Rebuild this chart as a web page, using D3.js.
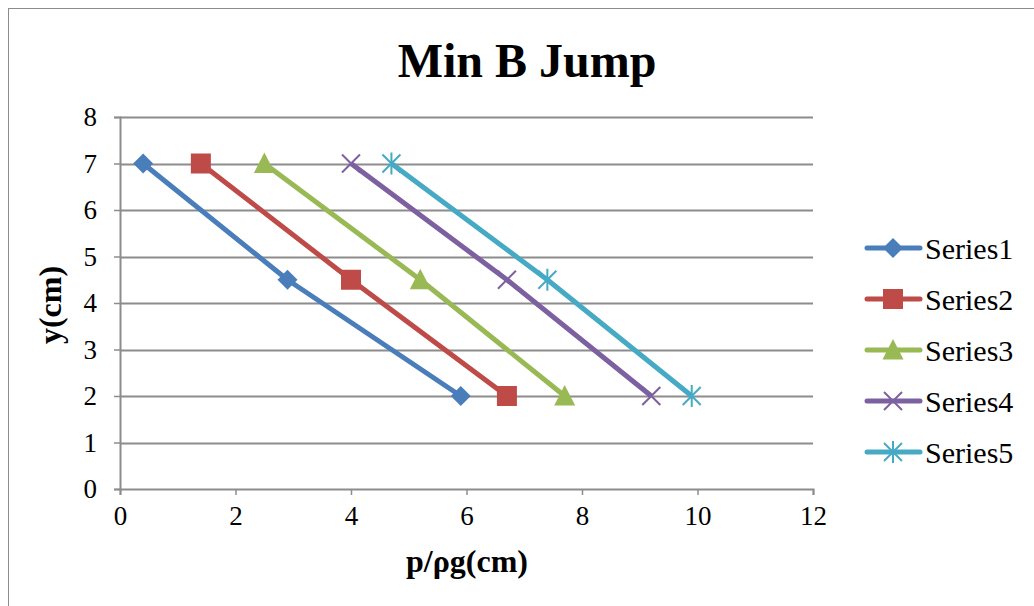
<!DOCTYPE html>
<html>
<head>
<meta charset="utf-8">
<script src="https://cdn.jsdelivr.net/npm/d3@7"></script>
<style>
  html, body { margin: 0; padding: 0; background: #fff; }
  svg { display: block; font-family: "Liberation Serif", "Times New Roman", serif; }
</style>
</head>
<body>
<svg id="chart" width="1034" height="606"></svg>
<script>
// Data
const seriesNames = ["Series1", "Series2", "Series3", "Series4", "Series5"];
const yValues = [7, 4.5, 2];
const s1 = [0.4, 2.9, 5.9];
const s2 = [1.4, 4.0, 6.7];
const s3 = [2.5, 5.2, 7.7];
const s4 = [4.0, 6.7, 9.2];
const s5 = [4.7, 7.4, 9.9];
const xTicks = [0, 2, 4, 6, 8, 10, 12];
const yTicks = [0, 1, 2, 3, 4, 5, 6, 7, 8];

const colors = ["#4a7ebb", "#be4b48", "#98b954", "#7d60a0", "#46aac5"];
const markerTypes = ["diamond", "square", "triangle", "x", "star"];

const series = [s1, s2, s3, s4, s5].map((xs, i) => ({
  name: seriesNames[i],
  color: colors[i],
  marker: markerTypes[i],
  points: xs.map((x, j) => ({ x: x, y: yValues[j] }))
}));

const serif = "'Liberation Serif', 'Times New Roman', serif";
const svg = d3.select("#chart");

// Chart frame
svg.append("rect")
  .attr("x", 8.5).attr("y", 8.5)
  .attr("width", 1040).attr("height", 620)
  .attr("fill", "#fff").attr("stroke", "#8c8c8c").attr("stroke-width", 1);

const plot = { left: 120, right: 813, top: 117, bottom: 489 };
const x = d3.scaleLinear().domain([0, 12]).range([plot.left, plot.right]);
const y = d3.scaleLinear().domain([0, 8]).range([plot.bottom, plot.top]);

// Horizontal gridlines
svg.append("g")
  .selectAll("line")
  .data(yTicks.filter(d => d > 0))
  .join("line")
  .attr("x1", plot.left).attr("x2", plot.right)
  .attr("y1", d => Math.round(y(d)) + 0.5).attr("y2", d => Math.round(y(d)) + 0.5)
  .attr("stroke", "#8c8c8c").attr("stroke-width", 2);

// Axes
const xAxis = svg.append("g")
  .attr("transform", `translate(0,${plot.bottom})`)
  .call(d3.axisBottom(x).tickValues(xTicks).tickSize(6).tickPadding(11).tickFormat(d3.format("d")));
const yAxis = svg.append("g")
  .attr("transform", `translate(${plot.left},0)`)
  .call(d3.axisLeft(y).tickValues(yTicks).tickSize(6).tickPadding(17).tickFormat(d3.format("d")));

[xAxis, yAxis].forEach(g => {
  g.attr("font-family", serif).attr("font-size", 27);
  g.select(".domain").attr("stroke", "#8c8c8c").attr("stroke-width", 2);
  g.selectAll(".tick line").attr("stroke", "#8c8c8c").attr("stroke-width", 1.5);
  g.selectAll(".tick text").attr("fill", "#000");
});

// Lines
const line = d3.line().x(d => x(d.x)).y(d => y(d.y));

svg.append("g")
  .selectAll("path")
  .data(series)
  .join("path")
  .attr("d", d => line(d.points))
  .attr("fill", "none")
  .attr("stroke", d => d.color)
  .attr("stroke-width", 5)
  .attr("stroke-linejoin", "round");

// Marker drawing
function drawMarker(g, type, color) {
  if (type === "diamond") {
    g.append("path").attr("d", "M0,-10L10,0L0,10L-10,0Z").attr("fill", color);
  } else if (type === "square") {
    g.append("rect").attr("x", -10).attr("y", -10).attr("width", 20).attr("height", 20).attr("fill", color);
  } else if (type === "triangle") {
    g.append("path").attr("d", "M0,-11L10.5,9.5L-10.5,9.5Z").attr("fill", color);
  } else if (type === "x") {
    g.append("path").attr("d", "M-9,-9L9,9M-9,9L9,-9").attr("stroke", color).attr("stroke-width", 2).attr("fill", "none");
  } else if (type === "star") {
    g.append("path").attr("d", "M-9,-9L9,9M-9,9L9,-9M0,-11L0,11").attr("stroke", color).attr("stroke-width", 2).attr("fill", "none");
  }
}

series.forEach(s => {
  s.points.forEach(p => {
    const g = svg.append("g").attr("transform", `translate(${x(p.x)},${y(p.y)})`);
    drawMarker(g, s.marker, s.color);
  });
});

// Title
svg.append("text")
  .attr("x", 527).attr("y", 77)
  .attr("text-anchor", "middle")
  .attr("font-family", serif)
  .attr("font-size", 48).attr("font-weight", "bold")
  .text("Min B Jump");

// Axis titles
svg.append("text")
  .attr("x", 467).attr("y", 572)
  .attr("text-anchor", "middle")
  .attr("font-family", serif)
  .attr("font-size", 32).attr("font-weight", "bold")
  .text("p/ρg(cm)");

svg.append("text")
  .attr("transform", "translate(61,305) rotate(-90)")
  .attr("text-anchor", "middle")
  .attr("font-family", serif)
  .attr("font-size", 32).attr("font-weight", "bold")
  .text("y(cm)");

// Legend
const legend = svg.append("g");
series.forEach((s, i) => {
  const cy = 248 + i * 51;
  const g = legend.append("g").attr("transform", `translate(0,${cy})`);
  g.append("line").attr("x1", 867).attr("x2", 920).attr("y1", 0).attr("y2", 0)
    .attr("stroke", s.color).attr("stroke-width", 5).attr("stroke-linecap", "round");
  const m = g.append("g").attr("transform", "translate(893,0)");
  drawMarker(m, s.marker, s.color);
  g.append("text").attr("x", 925).attr("y", 0).attr("dy", "0.35em")
    .attr("font-family", serif)
    .attr("font-size", 30)
    .text(s.name);
});
</script>
</body>
</html>
